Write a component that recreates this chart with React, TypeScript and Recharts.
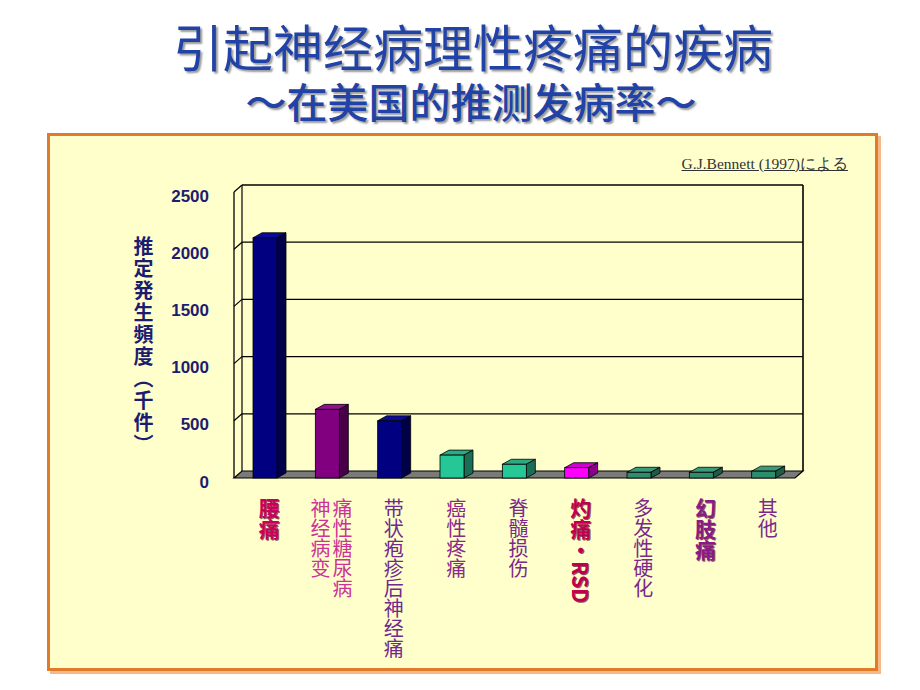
import { BarChart, Bar, XAxis, YAxis, CartesianGrid, Cell } from "recharts";

const categories = ["腰痛", "痛性糖尿病\n神经病变", "带状疱疹后神经痛", "癌性疼痛", "脊髓损伤", "灼痛・RSD", "多发性硬化", "幻肢痛", "其他"];
const incidence = [2100, 600, 500, 200, 120, 90, 50, 50, 60];
const yTicks = [0, 500, 1000, 1500, 2000, 2500];

const frontColors = ["#000080", "#800080", "#000080", "#26C796", "#26C796", "#FF00FF", "#2E8B6C", "#2E8B6C", "#2E8B6C"];
const topColors = ["#0A0A9A", "#93108F", "#0A0A9A", "#2FA884", "#2FA884", "#D000D0", "#3A9A7A", "#3A9A7A", "#3A9A7A"];
const sideColors = ["#000048", "#480048", "#000048", "#1B6E56", "#1B6E56", "#8A008A", "#1F5C48", "#1F5C48", "#1F5C48"];
const labelColors = ["#C8005A", "#CC3399", "#6E2A8E", "#8A2A8A", "#7A2A8A", "#C0004E", "#7A2A8A", "#8A1A8A", "#7A2A8A"];
const labelBold = [true, false, false, false, false, true, false, true, false];

const data = categories.map((name, i) => ({ name, value: incidence[i] }));

const D = 8; // wall depth
const E = 7;

const GridLine = (props: any) => {
  const { x1, y1, x2, y, height, index } = props;
  const bottom = y + height;
  const isFloor = Math.abs(y1 - bottom) < 0.5;
  return (
    <g key={`g-${index}`}>
      {isFloor ? (
        <polygon
          points={`${x1},${y1} ${x2},${y1} ${x2 + D},${y1 - E} ${x1 + D},${y1 - E}`}
          fill="#7a7a7a"
          stroke="#000"
          strokeWidth={1.2}
        />
      ) : (
        <>
          <line x1={x1 + D} y1={y1 - E} x2={x2 + D} y2={y1 - E} stroke="#000" strokeWidth={1.3} />
          <line x1={x1} y1={y1} x2={x1 + D} y2={y1 - E} stroke="#000" strokeWidth={1.2} />
        </>
      )}
      {index === 0 && (
        <>
          <line x1={x1 + D} y1={y - E} x2={x1 + D} y2={bottom - E} stroke="#000" strokeWidth={1.2} />
          <line x1={x2 + D} y1={y - E} x2={x2 + D} y2={bottom - E} stroke="#000" strokeWidth={1.6} />
        </>
      )}
    </g>
  );
};

const Bar3D = (props: any) => {
  const { x, y, width, height, index } = props;
  const d = 9;
  const e = 5;
  return (
    <g>
      <polygon
        points={`${x},${y} ${x + d},${y - e} ${x + width + d},${y - e} ${x + width},${y}`}
        fill={topColors[index]}
        stroke="#000"
        strokeWidth={0.8}
      />
      <polygon
        points={`${x + width},${y} ${x + width + d},${y - e} ${x + width + d},${y + height - e} ${x + width},${y + height}`}
        fill={sideColors[index]}
        stroke="#000"
        strokeWidth={0.8}
      />
      <rect x={x} y={y} width={width} height={height} fill={frontColors[index]} stroke="#000" strokeWidth={0.8} />
    </g>
  );
};

const YTick = ({ x, y, payload }: any) => (
  <text
    x={x}
    y={y + 4}
    textAnchor="end"
    dominantBaseline="central"
    fontFamily="Liberation Sans, Arial, sans-serif"
    fontWeight="bold"
    fontSize={17}
    fill="#1C1C70"
  >
    {payload.value}
  </text>
);

const XTick = ({ x, y, payload, index }: any) => {
  const cols = String(payload.value).split("\n");
  const bold = labelBold[index];
  return (
    <g>
      {cols.map((col, i) => {
        const cx = x + 4 + (cols.length - 1) * 11 - i * 22;
        const common = {
          y: y + 12,
          textAnchor: "start" as const,
          fontFamily: "Noto Sans CJK SC, sans-serif",
          fontWeight: bold ? 700 : 400,
          fontSize: bold ? 21 : 20,
          style: { writingMode: "vertical-rl" as const },
        };
        return (
          <g key={i}>
            {bold && (
              <text {...common} x={cx + 1} y={y + 13} fill="#5a1030" opacity={0.7}>
                {col}
              </text>
            )}
            <text {...common} x={cx} fill={labelColors[index]}>
              {col}
            </text>
          </g>
        );
      })}
    </g>
  );
};

export default function App() {
  return (
    <div style={{ position: "absolute", left: 0, top: 0, width: 920, height: 690, background: "#fff", overflow: "hidden" }}>
      <div
        style={{
          position: "absolute",
          left: 0,
          top: 19,
          width: 946,
          textAlign: "center",
          fontFamily: "Noto Sans CJK SC, sans-serif",
          fontSize: 50,
          fontWeight: 400,
          lineHeight: "52px",
          color: "#2142A6",
          textShadow: "2px 2px 2px #9a9a9a",
        }}
      >
        引起神经病理性疼痛的疾病
      </div>
      <div
        style={{
          position: "absolute",
          left: 0,
          top: 78,
          width: 942,
          textAlign: "center",
          fontFamily: "Noto Sans CJK SC, sans-serif",
          fontSize: 41,
          fontWeight: 500,
          lineHeight: "44px",
          color: "#2142A6",
          textShadow: "2px 2px 2px #9a9a9a",
        }}
      >
        ～在美国的推测发病率～
      </div>
      <div
        style={{
          position: "absolute",
          left: 47,
          top: 133,
          width: 825,
          height: 532,
          background: "#FFFFCC",
          border: "3px solid #E07B2B",
          boxShadow: "3px 3px 0 #F3B98A",
        }}
      />
      <div
        style={{
          position: "absolute",
          right: 920 - 848,
          top: 154,
          fontFamily: "Liberation Serif, serif",
          fontSize: 15.5,
          color: "#333",
          textDecoration: "underline",
          whiteSpace: "nowrap",
        }}
      >
        G.J.Bennett (1997)による
      </div>
      <div
        style={{
          position: "absolute",
          left: 131,
          top: 236,
          writingMode: "vertical-rl",
          fontFamily: "Noto Sans CJK JP, sans-serif",
          fontWeight: 700,
          fontSize: 20,
          letterSpacing: 2,
          lineHeight: "24px",
          color: "#1C1C70",
        }}
      >
        推定発生頻度（千件）
      </div>
      <div style={{ position: "absolute", left: 0, top: 0 }}>
        <BarChart width={920} height={690} data={data} margin={{ top: 192, right: 125, bottom: 22, left: 174 }}>
          <CartesianGrid horizontal={GridLine} vertical={false} />
          <YAxis
            type="number"
            domain={[0, 2500]}
            ticks={yTicks}
            width={60}
            axisLine={{ stroke: "#000", strokeWidth: 1.3 }}
            tickLine={false}
            tickSize={0}
            tickMargin={25}
            tick={<YTick />}
            interval={0}
          />
          <XAxis dataKey="name" interval={0} axisLine={false} tickLine={false} height={190} tick={<XTick />} />
          <Bar dataKey="value" barSize={24} shape={<Bar3D />} isAnimationActive={false}>
            {data.map((_, i) => (
              <Cell key={i} fill={frontColors[i]} />
            ))}
          </Bar>
        </BarChart>
      </div>
    </div>
  );
}
